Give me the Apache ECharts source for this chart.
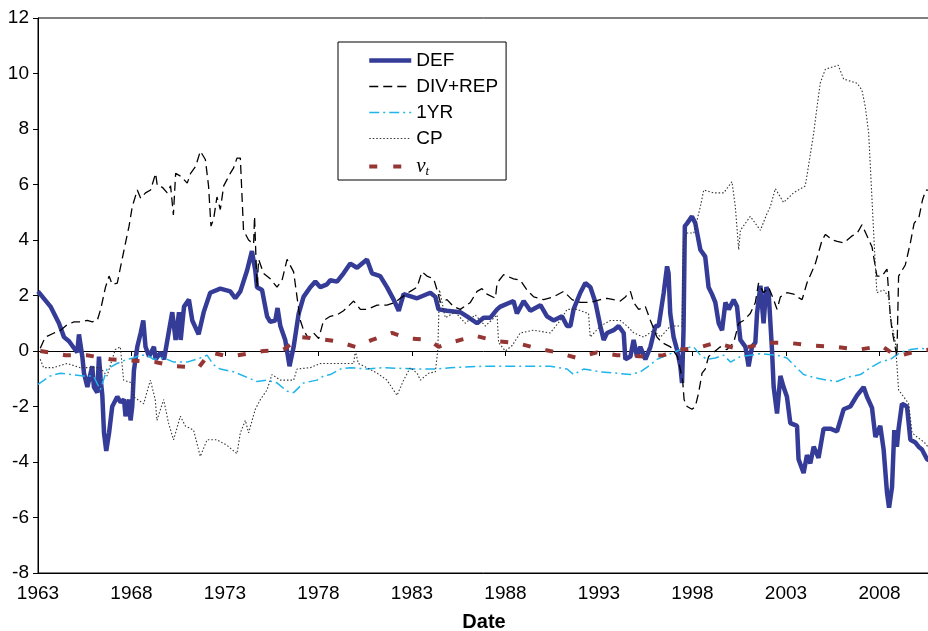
<!DOCTYPE html>
<html>
<head>
<meta charset="utf-8">
<script src="https://cdn.jsdelivr.net/npm/echarts@6/dist/echarts.min.js"></script>
<style>
  html, body { margin: 0; padding: 0; background: #fff; }
  #chart { width: 928px; height: 631px; }
</style>
</head>
<body>
<div id="chart"></div>
<script>
// [year, value]
var defData = [
  [1963.00,2.15],[1963.67,1.6],[1964.12,1.0],[1964.39,0.5],[1964.66,0.35],[1964.93,0.1],[1965.10,-0.05],[1965.19,0.6],
  [1965.37,-0.2],[1965.46,-0.8],[1965.64,-1.3],[1965.90,-0.55],[1965.99,-1.3],[1966.17,-1.5],[1966.26,-0.2],[1966.35,-1.0],
  [1966.44,-1.6],[1966.53,-2.95],[1966.65,-3.6],[1966.80,-2.95],[1966.97,-2.0],[1967.24,-1.65],[1967.42,-1.85],[1967.60,-1.75],
  [1967.68,-2.35],[1967.87,-1.75],[1967.95,-2.5],[1968.04,-2.0],[1968.13,-0.7],[1968.31,0.15],[1968.49,0.65],[1968.63,1.1],
  [1968.75,0.15],[1968.94,-0.2],[1969.20,0.15],[1969.29,-0.3],[1969.56,-0.05],[1969.74,-0.3],[1970.01,0.75],[1970.18,1.4],
  [1970.36,0.4],[1970.54,1.4],[1970.63,0.4],[1970.81,1.6],[1971.07,1.85],[1971.25,1.1],[1971.59,0.6],[1971.86,1.4],
  [1972.21,2.1],[1972.75,2.25],[1973.28,2.15],[1973.55,1.9],[1973.82,2.15],[1974.18,2.9],[1974.44,3.6],[1974.62,2.9],
  [1974.71,2.3],[1974.98,2.2],[1975.25,1.25],[1975.42,1.05],[1975.69,1.1],[1975.81,1.55],[1975.96,0.9],[1976.22,0.4],
  [1976.45,-0.55],[1976.67,0.15],[1976.94,1.35],[1977.20,1.95],[1977.56,2.3],[1977.83,2.5],[1978.10,2.3],[1978.45,2.4],
  [1978.63,2.55],[1978.99,2.5],[1979.34,2.8],[1979.70,3.15],[1980.06,3.0],[1980.59,3.3],[1980.86,2.8],[1981.30,2.7],
  [1981.66,2.3],[1982.02,1.85],[1982.29,1.45],[1982.55,2.05],[1983.27,1.9],[1983.98,2.1],[1984.25,1.95],[1984.42,1.5],
  [1984.87,1.45],[1985.58,1.4],[1985.94,1.25],[1986.48,1.0],[1986.83,1.2],[1987.19,1.2],[1987.55,1.5],[1987.73,1.6],
  [1988.43,1.8],[1988.61,1.35],[1988.97,1.8],[1989.33,1.45],[1989.87,1.65],[1990.22,1.25],[1990.57,1.1],[1991.02,1.25],
  [1991.29,0.9],[1991.47,0.9],[1991.64,1.5],[1992.00,2.1],[1992.27,2.45],[1992.54,2.3],[1992.81,1.75],[1993.07,0.9],
  [1993.25,0.4],[1993.43,0.65],[1993.78,0.75],[1994.05,0.9],[1994.32,0.65],[1994.41,-0.3],[1994.68,-0.2],[1994.85,0.4],
  [1995.03,-0.2],[1995.21,0.15],[1995.48,-0.3],[1995.75,0.15],[1996.02,0.9],[1996.19,0.9],[1996.46,2.1],[1996.64,3.05],
  [1996.72,2.8],[1996.81,1.35],[1996.99,0.5],[1997.17,0.05],[1997.35,-0.55],[1997.44,-1.15],[1997.52,0.75],[1997.59,4.5],
  [1997.71,4.6],[1997.97,4.85],[1998.15,4.6],[1998.42,3.65],[1998.68,3.4],[1998.86,2.3],[1999.04,2.05],[1999.22,1.75],
  [1999.40,1.0],[1999.58,0.75],[1999.76,1.75],[1999.94,1.5],[2000.20,1.85],[2000.38,1.6],[2000.56,0.4],[2000.83,0.15],
  [2001.00,-0.55],[2001.18,0.15],[2001.36,0.3],[2001.45,1.35],[2001.63,2.35],[2001.80,1.0],[2001.95,2.3],[2002.07,2.1],
  [2002.25,0.05],[2002.34,-1.3],[2002.52,-2.25],[2002.70,-0.9],[2002.87,-1.3],[2003.05,-1.65],[2003.23,-2.6],[2003.59,-2.7],
  [2003.67,-3.9],[2003.94,-4.4],[2004.12,-3.75],[2004.30,-4.05],[2004.48,-3.45],[2004.74,-3.85],[2005.01,-2.8],[2005.37,-2.8],
  [2005.73,-2.9],[2006.08,-2.1],[2006.44,-2.0],[2006.80,-1.6],[2007.15,-1.3],[2007.33,-1.65],[2007.60,-2.05],[2007.78,-3.1],
  [2008.04,-2.7],[2008.22,-3.55],[2008.40,-5.1],[2008.51,-5.65],[2008.67,-4.9],[2008.79,-2.85],[2008.93,-3.45],[2009.02,-2.8],
  [2009.20,-1.9],[2009.47,-2.0],[2009.65,-3.2],[2009.92,-3.3],[2010.09,-3.45],[2010.27,-3.55],[2010.54,-3.9],[2010.70,-3.95]
];

var divRepData = [
  [1963.12,0.1],[1963.39,0.5],[1963.86,0.65],[1964.21,0.75],[1964.57,0.95],[1964.93,1.05],[1965.28,1.05],[1965.64,1.1],
  [1965.90,1.05],[1966.17,1.1],[1966.35,1.5],[1966.61,2.3],[1966.80,2.7],[1966.97,2.4],[1967.24,2.45],[1967.42,3.05],
  [1967.68,3.9],[1967.87,4.5],[1968.04,5.2],[1968.31,5.8],[1968.49,5.5],[1968.75,5.7],[1969.02,5.8],[1969.29,6.4],
  [1969.38,5.95],[1969.65,5.9],[1969.91,5.7],[1970.09,5.95],[1970.24,4.9],[1970.36,6.4],[1970.63,6.3],[1970.98,6.05],
  [1971.16,6.4],[1971.43,6.65],[1971.68,7.2],[1971.95,6.9],[1972.12,5.95],[1972.25,4.5],[1972.39,4.75],[1972.57,5.55],
  [1972.75,5.1],[1972.93,5.95],[1973.28,6.4],[1973.46,6.6],[1973.64,6.95],[1973.82,6.95],[1973.99,4.35],[1974.26,4.0],
  [1974.53,3.85],[1974.58,4.85],[1974.71,2.3],[1974.80,3.3],[1975.06,2.8],[1975.42,2.6],[1975.78,2.3],[1976.05,2.55],
  [1976.32,3.3],[1976.67,2.85],[1976.85,1.95],[1977.03,1.1],[1977.20,0.75],[1977.47,0.45],[1977.74,0.65],[1978.01,0.45],
  [1978.27,1.1],[1978.63,1.25],[1978.99,1.3],[1979.34,1.45],[1979.88,1.8],[1980.24,1.5],[1980.59,1.5],[1981.13,1.65],
  [1981.66,1.65],[1982.11,1.75],[1982.37,1.9],[1982.91,2.15],[1983.27,2.3],[1983.53,2.85],[1983.80,2.7],[1984.16,2.6],
  [1984.34,2.2],[1984.52,1.75],[1984.87,1.85],[1985.22,1.6],[1985.58,1.5],[1986.12,1.75],[1986.48,2.15],[1986.74,2.25],
  [1987.01,2.05],[1987.46,1.9],[1987.55,2.45],[1987.90,2.75],[1988.43,2.6],[1988.79,2.55],[1989.15,2.2],[1989.51,1.95],
  [1990.04,1.85],[1990.57,1.95],[1991.11,2.15],[1991.56,1.85],[1992.00,1.75],[1992.54,1.75],[1993.07,1.85],[1993.43,1.9],
  [1993.78,1.85],[1994.14,1.8],[1994.41,1.95],[1994.68,2.15],[1994.85,1.75],[1995.12,1.5],[1995.48,1.6],[1995.75,1.1],
  [1996.10,0.5],[1996.37,0.3],[1996.82,0.15],[1997.20,-0.2],[1997.47,-1.05],[1997.55,-1.75],[1997.71,-2.0],[1997.97,-2.1],
  [1998.15,-2.0],[1998.33,-1.5],[1998.51,-0.8],[1998.68,-0.65],[1998.86,-0.2],[1999.13,-0.05],[1999.49,0.15],[1999.84,0.05],
  [2000.20,0.3],[2000.47,1.0],[2000.73,1.1],[2001.09,1.35],[2001.36,1.75],[2001.53,2.45],[2001.80,2.1],[2002.07,2.3],
  [2002.34,1.85],[2002.52,1.5],[2002.70,1.95],[2003.05,2.1],[2003.41,2.05],[2003.59,1.95],[2003.86,1.85],[2004.12,2.45],
  [2004.57,3.15],[2004.93,4.0],[2005.11,4.2],[2005.47,4.0],[2005.74,3.95],[2006.09,3.9],[2006.54,4.15],[2006.81,4.25],
  [2007.06,4.55],[2007.33,4.15],[2007.60,3.75],[2007.86,2.7],[2008.13,2.7],[2008.40,2.95],[2008.58,1.25],[2008.67,0.75],
  [2008.93,-0.2],[2009.02,2.7],[2009.38,3.1],[2009.65,3.9],[2009.85,4.6],[2010.12,4.85],[2010.30,5.45],[2010.48,5.8],
  [2010.70,5.8]
];

var oneYrData = [
  [1963.00,-1.2],[1963.66,-0.9],[1964.19,-0.8],[1964.82,-0.85],[1965.44,-0.9],[1965.97,-0.9],[1966.33,-1.4],[1966.69,-0.65],
  [1967.22,-0.45],[1967.76,-0.3],[1968.11,-0.25],[1968.47,-0.15],[1968.83,-0.15],[1969.18,-0.3],[1969.72,-0.25],[1970.25,-0.4],
  [1970.97,-0.4],[1971.68,-0.25],[1972.04,-0.15],[1972.39,-0.5],[1972.75,-0.65],[1973.46,-0.75],[1974.18,-0.95],[1974.71,-1.1],
  [1975.25,-1.05],[1975.78,-1.15],[1976.32,-1.45],[1976.67,-1.5],[1977.20,-1.15],[1977.92,-1.05],[1978.27,-0.9],[1978.63,-0.85],
  [1979.17,-0.65],[1979.70,-0.6],[1980.59,-0.65],[1981.48,-0.6],[1983.27,-0.65],[1984.34,-0.65],[1985.05,-0.6],[1986.83,-0.55],
  [1988.61,-0.55],[1990.39,-0.55],[1991.29,-0.65],[1991.64,-0.85],[1992.18,-0.65],[1993.07,-0.75],[1993.96,-0.8],[1994.68,-0.85],
  [1995.21,-0.75],[1995.75,-0.5],[1996.10,-0.3],[1996.64,-0.15],[1997.17,0.0],[1997.52,0.1],[1998.06,0.15],[1998.42,-0.15],
  [1998.78,-0.3],[1999.22,-0.25],[1999.67,-0.15],[2000.03,-0.4],[2000.56,-0.2],[2001.09,-0.15],[2001.63,-0.1],[2002.52,-0.15],
  [2003.05,-0.25],[2003.41,-0.5],[2003.94,-0.85],[2004.48,-0.95],[2005.19,-1.05],[2005.73,-1.1],[2006.26,-0.95],[2006.98,-0.85],
  [2007.51,-0.6],[2008.04,-0.4],[2008.58,-0.3],[2009.11,-0.05],[2009.65,0.05],[2010.19,0.1],[2010.70,0.05]
];

var cpData = [
  [1963.12,-0.3],[1963.30,-0.6],[1963.83,-0.6],[1964.55,-0.45],[1965.26,-0.6],[1966.33,-0.6],[1966.69,-0.9],[1967.13,0.05],
  [1967.40,0.15],[1967.58,-1.05],[1968.03,-1.15],[1968.11,-1.65],[1968.65,-1.9],[1969.01,-1.05],[1969.27,-1.75],[1969.36,-2.5],
  [1969.72,-1.75],[1969.98,-2.6],[1970.25,-3.2],[1970.61,-2.35],[1970.88,-2.7],[1971.32,-2.85],[1971.68,-3.8],[1972.04,-3.2],
  [1972.57,-3.2],[1973.11,-3.4],[1973.64,-3.7],[1973.82,-2.95],[1974.09,-2.5],[1974.26,-2.95],[1974.62,-2.1],[1974.89,-1.75],
  [1975.25,-1.4],[1975.51,-0.85],[1975.96,-1.05],[1976.67,-1.05],[1976.85,-0.65],[1977.56,-0.6],[1978.10,-0.45],[1979.88,-0.45],
  [1979.97,0.0],[1980.13,-0.45],[1980.59,-0.6],[1981.13,-0.8],[1981.66,-1.05],[1982.20,-1.6],[1982.55,-1.05],[1982.91,-0.6],
  [1983.27,-0.8],[1983.45,-1.05],[1983.89,-0.8],[1984.25,-0.75],[1984.38,0.05],[1984.47,2.2],[1984.78,1.2],[1985.31,1.4],
  [1985.85,1.0],[1986.38,1.3],[1986.92,0.9],[1987.55,1.3],[1987.63,0.3],[1987.99,0.0],[1988.36,0.2],[1988.79,0.65],
  [1989.50,0.75],[1990.39,0.65],[1990.93,1.1],[1991.29,1.5],[1991.82,1.5],[1992.44,1.35],[1992.53,0.5],[1993.07,0.9],
  [1993.61,1.1],[1994.14,1.1],[1994.50,0.9],[1994.86,0.65],[1995.39,0.5],[1995.93,0.75],[1996.29,0.5],[1996.82,0.9],
  [1997.44,0.9],[1997.52,4.0],[1997.71,4.25],[1998.07,4.25],[1998.42,5.2],[1998.60,5.8],[1999.13,5.7],[1999.67,5.7],
  [2000.11,6.1],[2000.29,5.2],[2000.47,3.65],[2000.56,4.35],[2001.09,4.85],[2001.63,4.35],[2001.98,4.95],[2002.16,5.2],
  [2002.43,5.85],[2002.87,5.35],[2003.41,5.7],[2004.03,5.95],[2004.21,6.7],[2004.48,7.85],[2004.66,8.8],[2004.83,9.65],
  [2005.10,10.15],[2005.79,10.3],[2006.08,9.8],[2006.80,9.65],[2007.06,9.4],[2007.24,8.8],[2007.42,7.85],[2007.60,5.45],
  [2007.77,3.15],[2007.86,2.1],[2008.22,2.2],[2008.49,1.95],[2008.58,1.25],[2008.85,0.3],[2009.02,-1.4],[2009.29,-1.65],
  [2009.56,-1.9],[2009.74,-2.95],[2010.01,-3.1],[2010.41,-3.3],[2010.70,-3.55]
];

var vtData = [
  [1963.12,0.0],[1964.46,-0.15],[1965.62,-0.15],[1966.87,-0.3],[1968.11,-0.35],[1969.27,-0.4],[1970.34,-0.55],[1971.59,-0.6],
  [1972.21,-0.05],[1973.19,-0.2],[1974.18,-0.1],[1975.06,0.0],[1976.13,0.05],[1977.03,0.5],[1977.92,0.45],[1978.99,0.35],
  [1979.97,0.15],[1980.86,0.4],[1981.93,0.65],[1982.82,0.45],[1983.89,0.4],[1984.42,0.15],[1985.32,0.35],[1986.39,0.55],
  [1987.55,0.35],[1988.52,0.3],[1989.68,0.1],[1990.75,-0.05],[1991.82,-0.25],[1992.89,-0.05],[1993.96,-0.15],[1995.39,-0.2],
  [1996.45,-0.15],[1997.34,0.05],[1998.24,0.1],[1999.22,0.3],[2000.29,0.1],[2001.00,0.15],[2002.07,0.3],[2003.05,0.3],
  [2004.35,0.2],[2005.63,0.15],[2006.88,0.05],[2008.13,0.18],[2008.91,-0.2],[2010.01,0.0],[2010.70,0.05]
];

var seriesNames = ['DEF', 'DIV+REP', '1YR', 'CP', 'vt'];
var yTicks = { min: -8, max: 12, step: 2 };
var xTicks = { min: 1963, max: 2010.7, step: 5 };

var font = 'Liberation Sans, Arial, sans-serif';

var chart = echarts.init(document.getElementById('chart'), null, { renderer: 'canvas' });

var option = {
  animation: false,
  backgroundColor: '#fff',
  grid: {
    left: 38, right: -2, top: 18, bottom: 58,
    show: true, borderColor: '#000', borderWidth: 1, backgroundColor: 'transparent',
    outerBoundsMode: 'none', containLabel: false
  },
  legend: {
    orient: 'vertical',
    left: 338, top: 42,
    padding: [9, 8, 2, 29],
    itemGap: 7,
    itemWidth: 42, itemHeight: 14,
    borderColor: '#000', borderWidth: 1, backgroundColor: '#fff',
    selectedMode: false,
    itemStyle: { opacity: 0 },
    formatter: function (name) {
      return name === 'vt' ? '{v|v}{t|t}' : name;
    },
    textStyle: {
      fontFamily: font, fontSize: 19, color: '#000',
      rich: {
        v: { fontFamily: 'Liberation Serif', fontStyle: 'italic', fontSize: 21, color: '#000', lineHeight: 19 },
        t: { fontFamily: 'Liberation Serif', fontStyle: 'italic', fontSize: 13, color: '#000', padding: [10, 0, 0, 0], lineHeight: 13 }
      }
    },
    data: [
      { name: 'DEF', lineStyle: { color: '#353c98', width: 4.5, type: 'solid' } },
      { name: 'DIV+REP', lineStyle: { color: '#000', width: 1.5, type: [9, 5] } },
      { name: '1YR', lineStyle: { color: '#1fb4ea', width: 1.5, type: [10, 4, 2, 4] } },
      { name: 'CP', lineStyle: { color: '#333', width: 1, type: [1.5, 2] } },
      { name: 'vt', lineStyle: { color: '#963634', width: 4, type: [8, 16] } }
    ]
  },
  xAxis: [
    {
      type: 'value',
      min: xTicks.min, max: xTicks.max, interval: xTicks.step,
      position: 'bottom',
      axisLine: { onZero: false, lineStyle: { color: '#000', width: 1 } },
      axisTick: { show: false },
      splitLine: { show: false },
      axisLabel: {
        fontFamily: font, fontSize: 19, color: '#000', margin: 11,
        formatter: function (v) {
          var d = Math.round((v - xTicks.min) * 100) / 100;
          return d % xTicks.step === 0 ? String(v) : '';
        }
      },
      name: 'Date', nameLocation: 'middle', nameGap: 39,
      nameTextStyle: { fontFamily: font, fontSize: 20, fontWeight: 'bold', color: '#000' }
    },
    {
      type: 'value',
      min: xTicks.min, max: xTicks.max, interval: xTicks.step,
      position: 'bottom',
      axisLine: { onZero: true, lineStyle: { color: '#000', width: 1 } },
      axisTick: { show: true, length: 5, lineStyle: { color: '#000' } },
      axisLabel: { show: false },
      splitLine: { show: false }
    }
  ],
  yAxis: {
    type: 'value',
    min: yTicks.min, max: yTicks.max, interval: yTicks.step,
    axisLine: { show: true, onZero: false, lineStyle: { color: '#000', width: 1 } },
    axisTick: { show: true, length: 5, lineStyle: { color: '#000' } },
    splitLine: { show: false },
    axisLabel: { fontFamily: font, fontSize: 19, color: '#000', margin: 9 }
  },
  series: [
    { name: 'DEF', type: 'line', data: defData, symbol: 'none',
      lineStyle: { color: '#353c98', width: 4.5 }, itemStyle: { color: '#353c98' } },
    { name: 'DIV+REP', type: 'line', data: divRepData, symbol: 'none',
      lineStyle: { color: '#000', width: 1.3, type: [9, 5] }, itemStyle: { color: '#000' } },
    { name: '1YR', type: 'line', data: oneYrData, symbol: 'none',
      lineStyle: { color: '#1fb4ea', width: 1.5, type: [10, 4, 2, 4] }, itemStyle: { color: '#1fb4ea' } },
    { name: 'CP', type: 'line', data: cpData, symbol: 'none',
      lineStyle: { color: '#333', width: 1.1, type: [1.5, 2] }, itemStyle: { color: '#333' } },
    { name: 'vt', type: 'line', data: vtData, symbol: 'none',
      lineStyle: { color: '#963634', width: 4, type: [8, 15] }, itemStyle: { color: '#963634' } }
  ]
};

chart.setOption(option);
</script>
</body>
</html>
